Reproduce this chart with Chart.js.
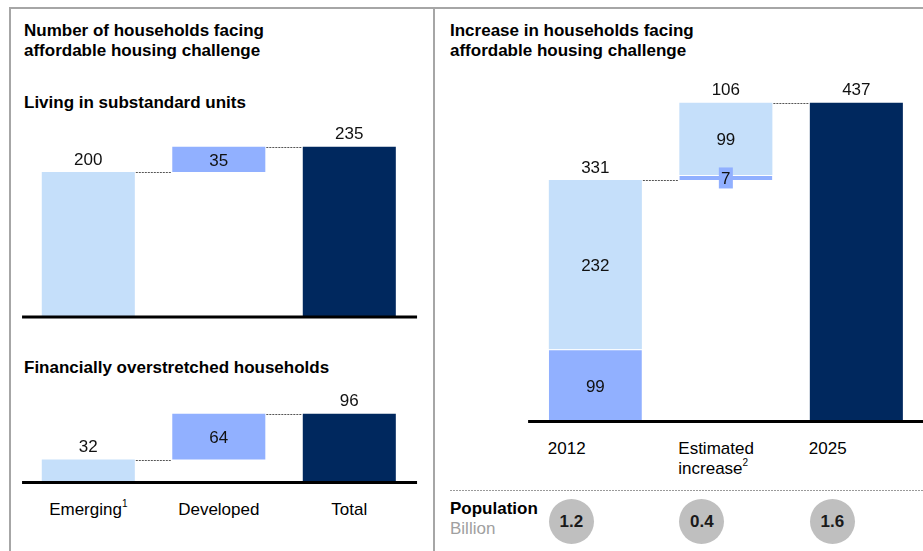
<!DOCTYPE html>
<html>
<head>
<meta charset="utf-8">
<script src="https://cdn.jsdelivr.net/npm/chart.js@4.4.1/dist/chart.umd.min.js"></script>
<style>
  html, body { margin: 0; padding: 0; background: #fff; }
  body { width: 923px; height: 551px; position: relative; overflow: hidden;
         font-family: "Liberation Sans", Arial, sans-serif; color: #000; }
  .abs { position: absolute; }
  .frame { left: 9px; top: 7px; width: 1000px; height: 700px;
           border-top: 2px solid #a6a6a6; border-left: 2px solid #a6a6a6; }
  .divider { left: 433px; top: 7px; width: 2px; height: 700px; background: #a6a6a6; }
  .title { font-size: 17px; font-weight: bold; line-height: 20px; white-space: nowrap; }
  .cat { font-size: 17px; line-height: 19.5px; white-space: nowrap; }
  .cat sup { font-size: 10px; line-height: 0; position: relative; top: -1px; }
  .dots { left: 450px; top: 490px; width: 473px; height: 1px;
          background: repeating-linear-gradient(90deg, #9a9a9a 0 2px, transparent 2px 3px); }
  .bubble { width: 45px; height: 45px; border-radius: 50%; background: #bfbfbf;
            font-size: 17px; font-weight: bold; line-height: 45px; text-align: center; color: #1a1a1a; }
  canvas { position: absolute; }
</style>
</head>
<body>
<div class="abs frame"></div>
<div class="abs divider"></div>

<div class="abs title" style="left:24px; top:21px;">Number of households facing<br>affordable housing challenge</div>
<div class="abs title" style="left:24px; top:93px;">Living in substandard units</div>
<div class="abs title" style="left:24px; top:358px;">Financially overstretched households</div>
<div class="abs title" style="left:450px; top:21px;">Increase in households facing<br>affordable housing challenge</div>

<canvas id="substandard" width="402" height="212" style="left:18px; top:110px;"></canvas>
<canvas id="overstretched" width="402" height="103" style="left:18px; top:385px;"></canvas>
<canvas id="increase" width="399" height="357" style="left:524px; top:70px;"></canvas>

<div class="abs dots"></div>
<div class="abs title" style="left:450px; top:499px;">Population</div>
<div class="abs cat" style="left:450px; top:519px; color:#a0a0a0;">Billion</div>

<script>
// households facing affordable housing challenge, millions
const leftCategories = ['Emerging<sup>1</sup>', 'Developed', 'Total'];
const substandardUnits = [200, 35];     // emerging, developed
const overstretched = [32, 64];         // emerging, developed

const rightCategories = ['2012', 'Estimated<br>increase<sup>2</sup>', '2025'];
const developedHouseholds = [99, 7];    // 2012, estimated increase
const emergingHouseholds = [232, 99];   // 2012, estimated increase
const population = [1.2, 0.4, 1.6];     // billion

const LIGHT = '#c5dffa';
const MEDIUM = '#91b0ff';
const NAVY = '#00285e';
const FONT = '17px "Liberation Sans", Arial, sans-serif';

Chart.defaults.font.family = '"Liberation Sans", Arial, sans-serif';
Chart.defaults.animation = false;

// [a, b] -> [[0,a],[a,a+b],[0,a+b]]
function waterfall(parts) {
  let run = 0;
  const bars = parts.map(v => { const b = [run, run + v]; run += v; return b; });
  bars.push([0, run]);
  return bars;
}

// baseline, dashed connectors and value labels
const barLabels = {
  id: 'barLabels',
  afterDatasetsDraw(chart, args, opts) {
    const ctx = chart.ctx;
    const area = chart.chartArea;
    const yScale = chart.scales.y;
    const y0 = yScale.getPixelForValue(0);
    ctx.save();

    ctx.strokeStyle = '#555';
    ctx.lineWidth = 1;
    ctx.setLineDash([2, 1]);
    for (const c of opts.connectors) {
      const a = chart.getDatasetMeta(c.from[0]).data[c.from[1]];
      const b = chart.getDatasetMeta(c.to[0]).data[c.to[1]];
      const y = Math.round(yScale.getPixelForValue(c.value)) + 0.5;
      ctx.beginPath();
      ctx.moveTo(a.x + a.width / 2 + 1, y);
      ctx.lineTo(b.x - b.width / 2 - 1, y);
      ctx.stroke();
    }
    ctx.setLineDash([]);

    ctx.fillStyle = '#000';
    ctx.fillRect(area.left - opts.axisLeft, y0 - 1.5, area.right - area.left + opts.axisLeft + opts.axisRight, 3);

    ctx.font = FONT;
    ctx.textAlign = 'center';
    ctx.textBaseline = 'alphabetic';
    for (const l of opts.labels) {
      const el = chart.getDatasetMeta(l.ds).data[l.i];
      const top = Math.min(el.y, el.base);
      const mid = (el.y + el.base) / 2;
      if (l.pos === 'box') {
        ctx.fillStyle = MEDIUM;
        ctx.fillRect(el.x - 7, mid - 10, 14, 21);
      }
      ctx.fillStyle = '#111';
      const y = l.pos === 'above' ? top - 7.5 : mid + 6.5;
      ctx.fillText(l.text, el.x, y);
    }
    ctx.restore();
  }
};

function baseOptions(maxY, padding, pluginOpts, stacked) {
  return {
    responsive: false,
    devicePixelRatio: 1,
    layout: { padding },
    scales: {
      x: { display: false, stacked: !!stacked },
      y: { display: false, min: 0, max: maxY }
    },
    plugins: { legend: { display: false }, tooltip: { enabled: false }, barLabels: pluginOpts }
  };
}

function leftChart(id, parts, maxY, padding) {
  const bars = waterfall(parts);
  const total = bars[2][1];
  return new Chart(document.getElementById(id), {
    type: 'bar',
    data: {
      labels: leftCategories,
      datasets: [{
        data: bars,
        backgroundColor: [LIGHT, MEDIUM, NAVY],
        barPercentage: 0.713,
        categoryPercentage: 1
      }]
    },
    options: baseOptions(maxY, padding, {
      axisLeft: 1, axisRight: 2.5,
      connectors: [
        { value: parts[0], from: [0, 0], to: [0, 1] },
        { value: total, from: [0, 1], to: [0, 2] }
      ],
      labels: [
        { ds: 0, i: 0, text: String(parts[0]), pos: 'above' },
        { ds: 0, i: 1, text: String(parts[1]), pos: 'inside' },
        { ds: 0, i: 2, text: String(total), pos: 'above' }
      ]
    }),
    plugins: [barLabels]
  });
}

const chart1 = leftChart('substandard', substandardUnits, 285.6, { left: 5.05, right: 5.45, top: 0, bottom: 5 });
const chart2 = leftChart('overstretched', overstretched, 136, { left: 5.05, right: 5.45, top: 0, bottom: 5.5 });

// right panel: stacked waterfall
const total2012 = developedHouseholds[0] + emergingHouseholds[0];
const increase = developedHouseholds[1] + emergingHouseholds[1];
const total2025 = total2012 + increase;

const chart3 = new Chart(document.getElementById('increase'), {
  type: 'bar',
  data: {
    labels: ['2012', 'Estimated increase', '2025'],
    datasets: [
      {
        data: [[0, developedHouseholds[0]], [total2012, total2012 + developedHouseholds[1]], null],
        backgroundColor: MEDIUM, borderColor: '#fff',
        borderWidth: { top: 1, left: 0, right: 0, bottom: 0 }, borderSkipped: false
      },
      {
        data: [[developedHouseholds[0], total2012], [total2012 + developedHouseholds[1], total2025], null],
        backgroundColor: LIGHT
      },
      {
        data: [null, null, [0, total2025]],
        backgroundColor: NAVY
      }
    ].map(d => Object.assign(d, { barPercentage: 0.713, categoryPercentage: 1 }))
  },
  options: baseOptions(481.8, { left: 6.1, right: 1.4, top: 0, bottom: 5.5 }, {
    axisLeft: 2, axisRight: 4,
    connectors: [
      { value: total2012, from: [1, 0], to: [1, 1] },
      { value: total2025, from: [1, 1], to: [2, 2] }
    ],
    labels: [
      { ds: 0, i: 0, text: String(developedHouseholds[0]), pos: 'inside' },
      { ds: 1, i: 0, text: String(emergingHouseholds[0]), pos: 'inside' },
      { ds: 1, i: 0, text: String(total2012), pos: 'above' },
      { ds: 0, i: 1, text: String(developedHouseholds[1]), pos: 'box' },
      { ds: 1, i: 1, text: String(emergingHouseholds[1]), pos: 'inside' },
      { ds: 1, i: 1, text: String(increase), pos: 'above' },
      { ds: 2, i: 2, text: String(total2025), pos: 'above' }
    ]
  }, true),
  plugins: [barLabels]
});

// category labels and population bubbles placed from the bar geometry
function addDiv(cls, html, style) {
  const d = document.createElement('div');
  d.className = 'abs ' + cls;
  d.innerHTML = html;
  Object.assign(d.style, style);
  document.body.appendChild(d);
  return d;
}

const c2 = document.getElementById('overstretched');
chart2.getDatasetMeta(0).data.forEach((el, i) => {
  addDiv('cat', leftCategories[i], {
    left: (c2.offsetLeft + el.x - 65) + 'px', width: '130px', textAlign: 'center', top: '500px'
  });
});

const c3 = document.getElementById('increase');
const barsRight = [chart3.getDatasetMeta(1).data[0], chart3.getDatasetMeta(1).data[1], chart3.getDatasetMeta(2).data[2]];
barsRight.forEach((el, i) => {
  const left = c3.offsetLeft + el.x - el.width / 2;
  addDiv('cat', rightCategories[i], { left: (left - 1) + 'px', top: '439px' });
  addDiv('bubble', population[i].toFixed(1), { left: left + 'px', top: '498.5px' });
});
</script>
</body>
</html>
